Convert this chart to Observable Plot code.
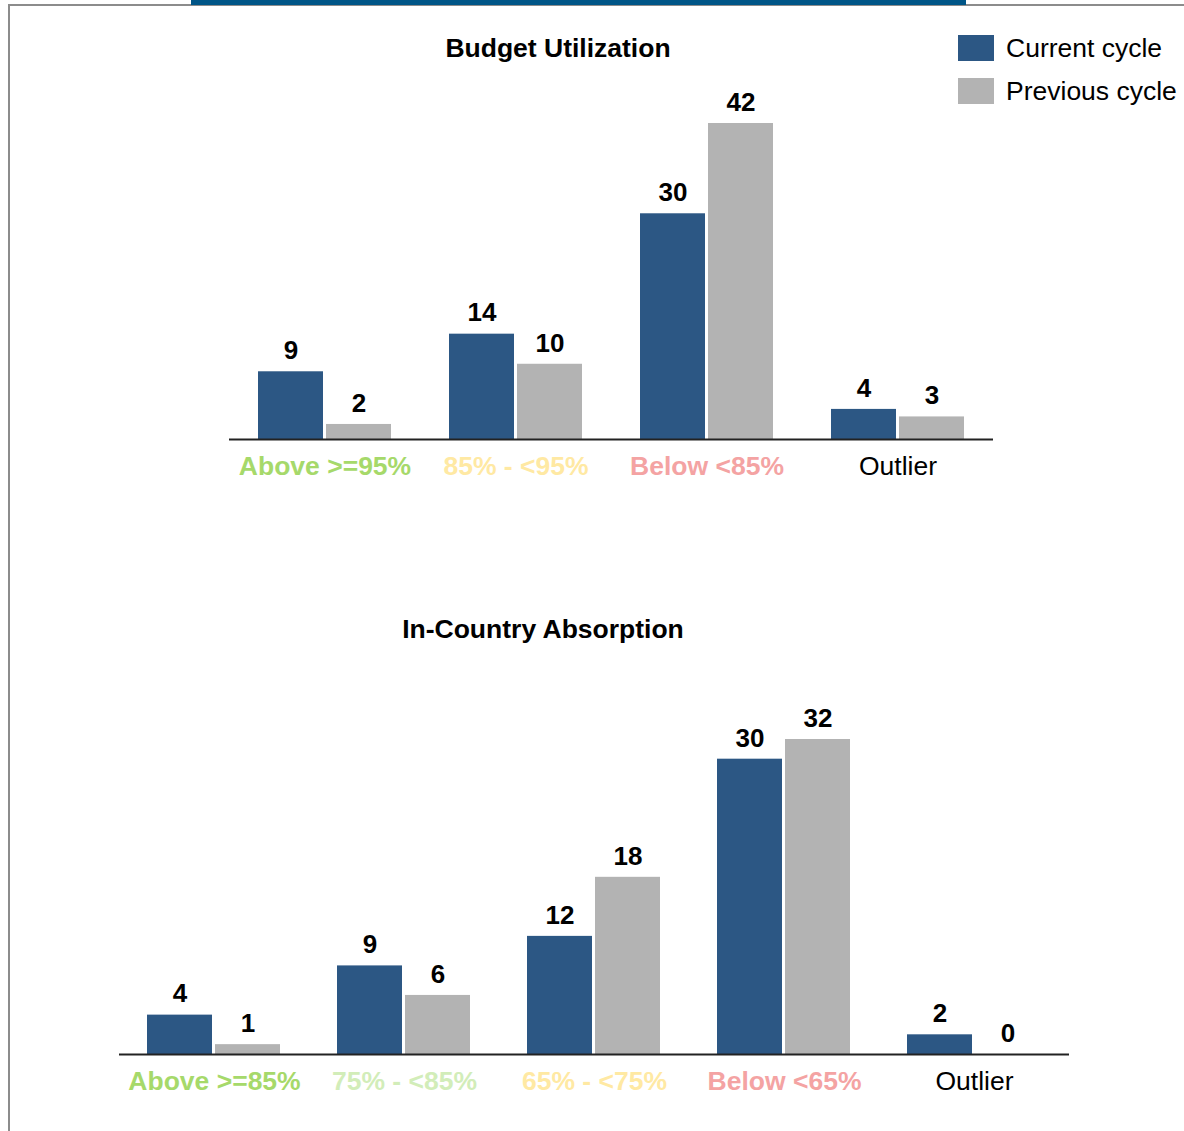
<!DOCTYPE html>
<html>
<head>
<meta charset="utf-8">
<script src="https://cdn.jsdelivr.net/npm/d3@7"></script>
<script src="https://cdn.jsdelivr.net/npm/@observablehq/plot@0.6"></script>
<style>
  html, body { margin: 0; padding: 0; background: #fff; }
  #root { position: relative; width: 1184px; height: 1131px; overflow: hidden; font-family: "Liberation Sans", Arial, sans-serif; }
  .abs { position: absolute; }
  .title { font-weight: bold; font-size: 26.5px; text-align: center; color: #000; white-space: nowrap; }
  .legtext { font-size: 26.5px; color: #000; white-space: nowrap; line-height: 30px; }
</style>
</head>
<body>
<div id="root">
  <div class="abs" style="left:8px; top:4px; width:1176px; height:1127px; border-left:2px solid #8c8c8c; border-top:2px solid #8c8c8c; box-sizing:border-box;"></div>
  <div class="abs" style="left:191px; top:0px; width:775px; height:5px; background:#005587;"></div>
  <div id="title1" class="abs title" style="left:358px; top:32px; width:400px; line-height:32px;"></div>
  <div id="title2" class="abs title" style="left:343px; top:613px; width:400px; line-height:32px;"></div>
  <div id="legend" class="abs" style="left:958px; top:35px;"></div>
  <div id="chart1" class="abs" style="left:229px; top:63px;"></div>
  <div id="chart2" class="abs" style="left:117px; top:679px;"></div>
</div>
<script>
// ---- Data ----
const seriesNames = ["Current cycle", "Previous cycle"];
const seriesColors = ["#2c5784", "#b3b3b3"];

const budgetTitle = "Budget Utilization";
const budgetCats = ["Above >=95%", "85% - <95%", "Below <85%", "Outlier"];
const budgetCurrent = [9, 14, 30, 4];
const budgetPrevious = [2, 10, 42, 3];
const budgetLabelColors = ["#a6d96a", "#ffe9a3", "#f4a3a3", "#000000"];

const absorpTitle = "In-Country Absorption";
const absorpCats = ["Above >=85%", "75% - <85%", "65% - <75%", "Below <65%", "Outlier"];
const absorpCurrent = [4, 9, 12, 30, 2];
const absorpPrevious = [1, 6, 18, 32, 0];
const absorpLabelColors = ["#a6d96a", "#d2edb9", "#ffe9a3", "#f4a3a3", "#000000"];

// ---- Build ----
function makeChart(cats, current, previous, labelColors, opts) {
  const rows = [];
  cats.forEach((c, i) => {
    rows.push({cat: c, series: seriesNames[0], value: current[i]});
    rows.push({cat: c, series: seriesNames[1], value: previous[i]});
  });
  const labelMarks = cats.map((c, i) => Plot.text([c], {
    fx: d => d,
    text: d => d,
    frameAnchor: "bottom",
    lineAnchor: "middle",
    dy: 27,
    fill: labelColors[i],
    fontWeight: c === "Outlier" ? "normal" : "bold",
    fontSize: 26.5
  }));
  return Plot.plot({
    width: opts.width,
    height: opts.height,
    marginLeft: 0,
    marginRight: 0,
    marginTop: opts.marginTop,
    marginBottom: opts.marginBottom,
    style: {fontFamily: "'Liberation Sans', Arial, sans-serif", fontSize: "25px", overflow: "visible", background: "transparent"},
    fx: {domain: cats, padding: 0, axis: null},
    x: {domain: seriesNames, paddingInner: 0.04, paddingOuter: 0.41, axis: null},
    y: {domain: [0, opts.yMax], axis: null},
    color: {domain: seriesNames, range: seriesColors},
    marks: [
      Plot.barY(rows, {fx: "cat", x: "series", y: "value", fill: "series"}),
      Plot.ruleY([0], {stroke: "#222", strokeWidth: 2}),
      Plot.text(rows, {fx: "cat", x: "series", y: "value", text: d => String(d.value), dy: -21, fontWeight: "bold", fontSize: 26, fill: "#000"}),
      ...labelMarks
    ]
  });
}

document.getElementById("title1").textContent = budgetTitle;
document.getElementById("title2").textContent = absorpTitle;

document.getElementById("chart1").appendChild(
  makeChart(budgetCats, budgetCurrent, budgetPrevious, budgetLabelColors,
    {width: 764, height: 421, marginTop: 60, marginBottom: 45, yMax: 42}));
document.getElementById("chart2").appendChild(
  makeChart(absorpCats, absorpCurrent, absorpPrevious, absorpLabelColors,
    {width: 954, height: 420, marginTop: 60, marginBottom: 45, yMax: 32}));

// legend
const leg = document.getElementById("legend");
seriesNames.forEach((s, i) => {
  const row = document.createElement("div");
  row.style.cssText = "display:flex; align-items:center; height:26px; margin-bottom:17px;";
  const sw = document.createElement("div");
  sw.style.cssText = `width:36px; height:26px; background:${seriesColors[i]}; margin-right:12px; flex:none;`;
  const t = document.createElement("div");
  t.className = "legtext";
  t.textContent = s;
  row.appendChild(sw); row.appendChild(t);
  leg.appendChild(row);
});
</script>
</body>
</html>
